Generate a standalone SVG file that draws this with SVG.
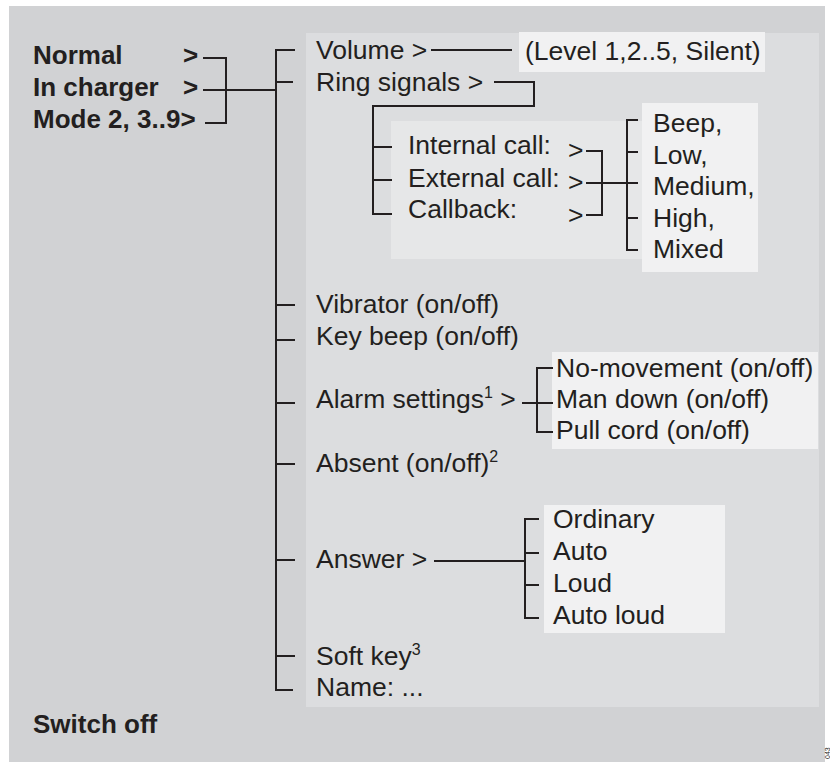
<svg xmlns="http://www.w3.org/2000/svg" width="830" height="762" viewBox="0 0 830 762">
<style>
text{font-family:"Liberation Sans",Arial,Helvetica,sans-serif;fill:#231f20;font-size:26.5px}
.b{font-weight:bold;font-size:26px}
.sup{font-size:16px}
.ln{stroke:#231f20;stroke-width:2;fill:none}
</style>
<rect x="0" y="0" width="830" height="762" fill="#ffffff"/>
<rect x="9" y="6" width="816" height="756" fill="#d1d2d4"/>
<rect x="306" y="33" width="513" height="674" fill="#dcdddf"/>
<rect x="519" y="32" width="246" height="40" fill="#f1f1f2"/>
<rect x="391" y="121" width="251" height="138" fill="#e6e7e8"/>
<rect x="642" y="103" width="116" height="169" fill="#f1f1f2"/>
<rect x="552" y="352" width="266" height="97" fill="#f1f1f2"/>
<rect x="544" y="505" width="181" height="128" fill="#f1f1f2"/>

<g id="connectors" class="ln">
<path d="M203 58H226V123H205M203 90H276"/>
<path d="M295 50H276V690H293M276 82H293M276 305H295M276 340H295M276 403H295M276 464H295M276 560H295M276 656H295"/>
<path d="M431 50H512"/>
<path d="M494 82H534V106H373V214H392M373 147H392M373 180H392"/>
<path d="M586 151H602V215H586M586 183H627M638 120H627V250H638M627 152H638M627 218H638M627 183H638"/>
<path d="M522 403H553M553 368H537V432H553"/>
<path d="M434 561H525M539 519H525V618H539M525 553H539M525 585H539"/>
</g>

<g id="modes">
<text class="b" x="33" y="64">Normal</text><text class="b" x="183" y="64">&gt;</text>
<text class="b" x="33" y="96">In charger</text><text class="b" x="183" y="96">&gt;</text>
<text class="b" x="33" y="128">Mode 2, 3..9&gt;</text>
</g>
<g id="switch-off"><text class="b" x="33" y="733">Switch off</text></g>

<g id="volume"><text x="316" y="58.5">Volume &gt;</text></g>
<g id="volume-levels"><text x="525" y="60">(Level 1,2..5, Silent)</text></g>
<g id="ring-signals"><text x="316" y="90.5">Ring signals &gt;</text></g>
<g id="calls">
<text x="408" y="154">Internal call:</text><text x="568" y="159">&gt;</text>
<text x="408" y="187">External call:</text><text x="568" y="191">&gt;</text>
<text x="408" y="218">Callback:</text><text x="568" y="223.5">&gt;</text>
</g>
<g id="ring-levels">
<text x="653" y="132">Beep,</text>
<text x="653" y="163.5">Low,</text>
<text x="653" y="195">Medium,</text>
<text x="653" y="226.5">High,</text>
<text x="653" y="258">Mixed</text>
</g>
<g id="vibrator"><text x="316" y="313">Vibrator (on/off)</text></g>
<g id="key-beep"><text x="316" y="345">Key beep (on/off)</text></g>
<g id="alarm-settings"><text x="316" y="408">Alarm settings<tspan class="sup" dy="-10">1</tspan><tspan dy="10"> &gt;</tspan></text></g>
<g id="alarm-options">
<text x="556" y="377">No-movement (on/off)</text>
<text x="556" y="408">Man down (on/off)</text>
<text x="556" y="439">Pull cord (on/off)</text>
</g>
<g id="absent"><text x="316" y="472">Absent (on/off)<tspan class="sup" dy="-10">2</tspan></text></g>
<g id="answer"><text x="316" y="568">Answer &gt;</text></g>
<g id="answer-options">
<text x="553" y="528">Ordinary</text>
<text x="553" y="560">Auto</text>
<text x="553" y="592">Loud</text>
<text x="553" y="624">Auto loud</text>
</g>
<g id="soft-key"><text x="316" y="665">Soft key<tspan class="sup" dy="-10">3</tspan></text></g>
<g id="name"><text x="316" y="696">Name: ...</text></g>
<text transform="translate(829.5,759) rotate(-90)" style="font-size:7px">043</text>
</svg>
